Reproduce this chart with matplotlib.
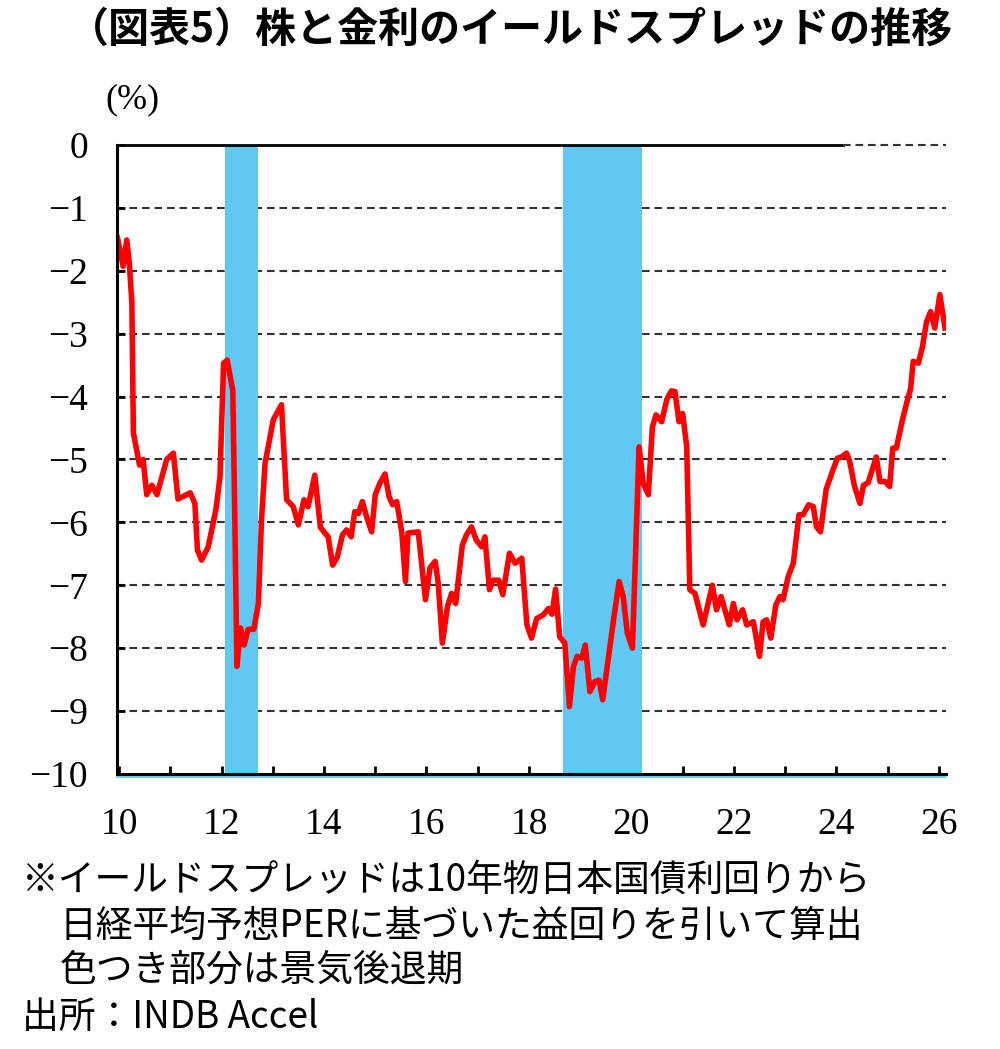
import matplotlib
matplotlib.use("Agg")
import matplotlib.pyplot as plt
import matplotlib.transforms as mtransforms

# ---------------- data ----------------
years = [9.97, 10.08, 10.15, 10.20, 10.25, 10.28, 10.40, 10.47, 10.54, 10.64, 10.74, 10.93,
         11.06, 11.15, 11.39, 11.48, 11.53, 11.61, 11.74, 11.89, 11.97,
         12.04, 12.11, 12.22, 12.26, 12.30, 12.37, 12.44, 12.52, 12.63, 12.72, 12.78, 12.85,
         13.01, 13.17, 13.27, 13.40, 13.50, 13.61, 13.69, 13.82, 13.93,
         14.08, 14.17, 14.26, 14.36, 14.44, 14.53, 14.60, 14.67, 14.75, 14.83, 14.93,
         15.00, 15.09, 15.19, 15.27, 15.34, 15.42, 15.52, 15.59, 15.64, 15.84, 15.92, 15.98,
         16.07, 16.17, 16.23, 16.31, 16.41, 16.49, 16.57, 16.70, 16.78, 16.88, 16.97,
         17.08, 17.14, 17.23, 17.30, 17.41, 17.49, 17.62, 17.73, 17.86, 17.96,
         18.05, 18.15, 18.28, 18.38, 18.45, 18.52, 18.60, 18.70, 18.79, 18.87, 18.94,
         19.03, 19.10, 19.19, 19.29, 19.37, 19.44, 19.58, 19.66, 19.76, 19.84, 19.92,
         20.02, 20.15, 20.23, 20.33, 20.41, 20.48, 20.59, 20.69, 20.78, 20.85, 20.93,
         21.00, 21.08, 21.14, 21.24, 21.40, 21.58, 21.66, 21.75, 21.91, 21.99,
         22.06, 22.17, 22.25, 22.38, 22.50, 22.57, 22.64, 22.72, 22.82, 22.90, 22.96,
         23.06, 23.16, 23.27, 23.35, 23.46, 23.55, 23.61, 23.69, 23.80, 23.91,
         24.02, 24.10, 24.20, 24.26, 24.35, 24.46, 24.53, 24.62, 24.78, 24.85, 24.95,
         25.04, 25.10, 25.17, 25.29, 25.37, 25.45, 25.50, 25.60, 25.68, 25.76, 25.84, 25.92,
         26.02, 26.12]
spread = [-1.48, -1.93, -1.51, -1.88, -2.50, -4.58, -5.09, -5.00, -5.56, -5.41, -5.56, -5.00,
          -4.90, -5.63, -5.53, -5.70, -6.44, -6.60, -6.39, -5.80, -5.28,
          -3.47, -3.42, -3.90, -5.96, -8.29, -7.68, -7.95, -7.70, -7.70, -7.29, -5.96, -5.06,
          -4.37, -4.13, -5.64, -5.75, -6.04, -5.64, -5.75, -5.25, -6.08,
          -6.23, -6.68, -6.55, -6.20, -6.12, -6.23, -5.83, -5.86, -5.67, -5.91, -6.15,
          -5.56, -5.38, -5.23, -5.59, -5.72, -5.67, -6.17, -6.94, -6.17, -6.15, -6.76, -7.23,
          -6.72, -6.62, -6.97, -7.92, -7.34, -7.13, -7.29, -6.36, -6.20, -6.07, -6.28,
          -6.39, -6.23, -7.07, -6.92, -6.92, -7.15, -6.49, -6.65, -6.57, -7.63,
          -7.84, -7.53, -7.47, -7.37, -7.46, -7.06, -7.82, -7.92, -8.93, -8.29, -8.13,
          -8.16, -7.95, -8.69, -8.53, -8.51, -8.82, -7.98, -7.50, -6.94, -7.18, -7.76,
          -8.00, -4.80, -5.38, -5.56, -4.48, -4.29, -4.40, -4.05, -3.91, -3.92, -4.40,
          -4.27, -4.80, -7.07, -7.13, -7.63, -7.00, -7.39, -7.18, -7.63, -7.29,
          -7.55, -7.39, -7.63, -7.58, -8.13, -7.58, -7.55, -7.84, -7.31, -7.18, -7.23,
          -6.86, -6.65, -5.88, -5.88, -5.72, -5.75, -6.07, -6.15, -5.48, -5.22,
          -4.98, -4.96, -4.90, -5.03, -5.41, -5.70, -5.41, -5.37, -4.96, -5.35, -5.35,
          -5.43, -4.82, -4.82, -4.37, -4.11, -3.87, -3.44, -3.47, -3.21, -2.81, -2.65, -2.91,
          -2.38, -2.91]

recession_start = [12.07, 18.66]
recession_end = [12.71, 20.20]

x_ticks = list(range(10, 27))
x_labels = [str(y) if y % 2 == 0 else "" for y in x_ticks]
y_ticks = list(range(0, -11, -1))
grid_levels = list(range(-1, -10, -1))

title = "（図表5）株と金利のイールドスプレッドの推移"
unit = "(%)"
notes = ["※イールドスプレッドは10年物日本国債利回りから",
         "日経平均予想PERに基づいた益回りを引いて算出",
         "色つき部分は景気後退期"]
source = "出所：INDB Accel"

# ---------------- style ----------------
plt.rcParams['lines.scale_dashes'] = False
jp = ['Noto Sans CJK JP', 'DejaVu Sans']
serif = ['Liberation Serif', 'DejaVu Serif']

fig = plt.figure(figsize=(10, 10.49), dpi=100)
ax = fig.add_axes([0.117, 0.2622, 0.829, 0.5996])

xmin, xmax = 9.96, 26.14
ax.set_xlim(xmin, xmax)
ax.set_ylim(-10, 0)

shade = '#60C8F2'
for s, e in zip(recession_start, recession_end):
    ax.axvspan(s, e, color=shade, lw=0, zorder=2)

for g in grid_levels:
    ax.axhline(g, color='#333333', lw=1.5, dashes=(5.5, 3.5), zorder=1)

# zero line: solid part then dashed part
ax.plot([xmin, 24.13], [0, 0], color='black', lw=2.0, clip_on=False, zorder=4)
ax.plot([24.13, xmax], [0, 0], color='#333333', lw=1.5, dashes=(5.5, 3.5), clip_on=False, zorder=4)

# light blue line under bottom axis
off = mtransforms.offset_copy(ax.transData, fig=fig, x=0, y=-2.0, units='points')
ax.plot([xmin, xmax], [-10, -10], color=shade, lw=1.2, transform=off, clip_on=False, zorder=1)

ax.plot(years, spread, color='#FF0000', lw=4.0, solid_joinstyle='round', zorder=5)

for side in ['top', 'right']:
    ax.spines[side].set_visible(False)
for side in ['left', 'bottom']:
    ax.spines[side].set_linewidth(2.2)
    ax.spines[side].set_color('black')
    ax.spines[side].set_zorder(6)

ax.set_xticks(x_ticks)
ax.set_xticklabels(x_labels)
ax.set_yticks(y_ticks)
ax.set_yticklabels([str(v).replace('-', '\u2212') for v in y_ticks])
ax.tick_params(axis='both', direction='in', length=6, width=2, colors='black')
ax.tick_params(axis='x', pad=24)
ax.tick_params(axis='y', pad=21)
for lab in ax.get_xticklabels() + ax.get_yticklabels():
    lab.set_fontfamily(serif)
    lab.set_fontsize(27)

fig.text(0.068, 1 - 30 / 1049, title, fontsize=29.5, fontweight='bold', family=jp,
         ha='left', va='center')
fig.text(0.105, 1 - 100 / 1049, unit, fontsize=26, family=serif, ha='left', va='center')

fig.text(0.022, 1 - 880 / 1049, notes[0], fontsize=26.5, family=jp, ha='left', va='center')
fig.text(0.060, 1 - 926 / 1049, notes[1], fontsize=26.5, family=jp, ha='left', va='center')
fig.text(0.060, 1 - 970 / 1049, notes[2], fontsize=26.5, family=jp, ha='left', va='center')
fig.text(0.022, 1 - 1017 / 1049, source, fontsize=26.5, family=jp, ha='left', va='center')

fig.savefig('out.png', dpi=100, facecolor='white')
